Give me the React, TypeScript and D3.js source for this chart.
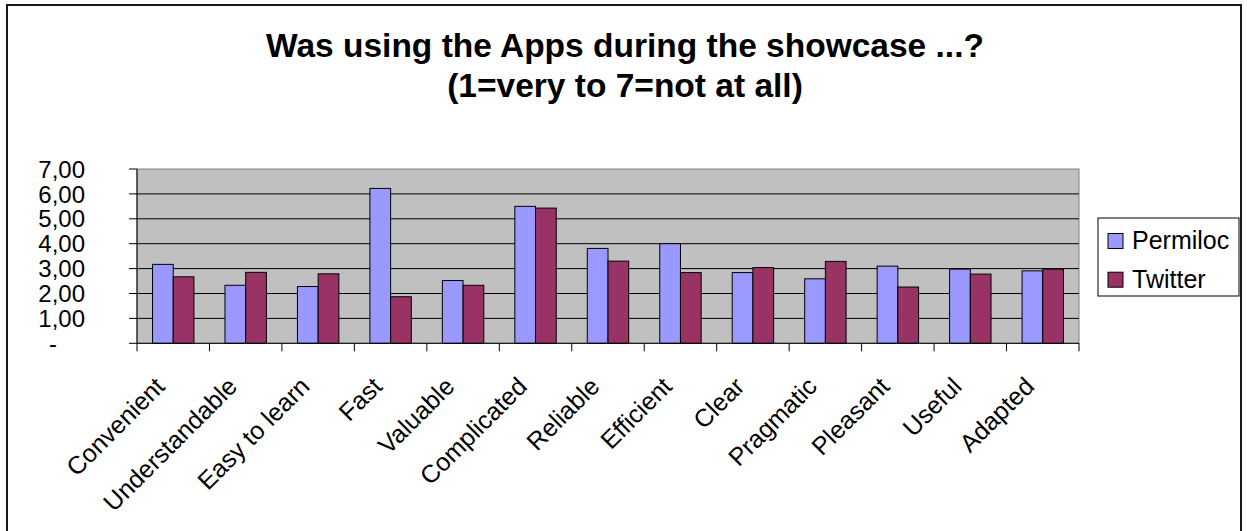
import React from "react";
import * as d3 from "d3";

// Survey attributes rated on a 1 (very) to 7 (not at all) scale
const categories = [
  "Convenient",
  "Understandable",
  "Easy to learn",
  "Fast",
  "Valuable",
  "Complicated",
  "Reliable",
  "Efficient",
  "Clear",
  "Pragmatic",
  "Pleasant",
  "Useful",
  "Adapted",
];

const seriesNames = ["Permiloc", "Twitter"];

// Mean ratings per app
const permiloc = [3.17, 2.33, 2.28, 6.22, 2.52, 5.5, 3.81, 4.0, 2.84, 2.59, 3.1, 2.98, 2.91];
const twitter = [2.67, 2.85, 2.79, 1.87, 2.33, 5.43, 3.3, 2.84, 3.04, 3.29, 2.26, 2.78, 2.98];

const yTicks = [0, 1, 2, 3, 4, 5, 6, 7];

const titleLines = ["Was using the Apps during the showcase ...?", "(1=very to 7=not at all)"];

const colors = ["#9999FF", "#993366"];

const W = 1247;
const H = 531;
const plot = { left: 137, right: 1079, top: 169, bottom: 343.3 };
const FONT = "'Liberation Sans', Arial, sans-serif";

export default function App() {
  const values = [permiloc, twitter];

  const x = d3.scaleBand<string>().domain(categories).range([plot.left, plot.right]).padding(0);
  const sub = d3
    .scaleBand<string>()
    .domain(seriesNames)
    .range([0, x.bandwidth()])
    .paddingInner(0)
    .paddingOuter(0.75);
  const y = d3.scaleLinear().domain([0, 7]).range([plot.bottom, plot.top]);

  const fmt = (v: number) => (v === 0 ? "-" : d3.format(".2f")(v).replace(".", ","));

  const boundaries = d3.range(categories.length + 1).map((i) => plot.left + i * x.step());

  return (
    <svg
      width={W}
      height={H}
      style={{ position: "fixed", left: 0, top: 0, background: "#fff" }}
      fontFamily={FONT}
    >
      {/* chart frame */}
      <rect x={7} y={5} width={1234} height={600} fill="#fff" stroke="#000" strokeWidth={1.8} />

      {/* title */}
      {titleLines.map((t, i) => (
        <text
          key={t}
          x={625}
          y={57 + i * 40}
          textAnchor="middle"
          fontSize={33.5}
          fontWeight="bold"
          fill="#000"
        >
          {t}
        </text>
      ))}

      {/* plot area */}
      <rect
        x={plot.left}
        y={plot.top}
        width={plot.right - plot.left}
        height={plot.bottom - plot.top}
        fill="#C0C0C0"
        stroke="#808080"
        strokeWidth={1}
      />

      {/* gridlines */}
      {yTicks
        .filter((t) => t > 0 && t < 7)
        .map((t) => (
          <line key={t} x1={plot.left} x2={plot.right} y1={y(t)} y2={y(t)} stroke="#000" strokeWidth={1} />
        ))}

      {/* bars */}
      {categories.map((c, i) => (
        <g key={c}>
          {seriesNames.map((s, j) => {
            const v = values[j][i];
            return (
              <rect
                key={s}
                x={(x(c) as number) + (sub(s) as number)}
                y={y(v)}
                width={sub.bandwidth()}
                height={y(0) - y(v)}
                fill={colors[j]}
                stroke="#000"
                strokeWidth={1}
              />
            );
          })}
        </g>
      ))}

      {/* y axis */}
      <line x1={plot.left} x2={plot.left} y1={plot.top} y2={plot.bottom} stroke="#000" strokeWidth={1} />
      {yTicks.map((t) => (
        <g key={t}>
          <line x1={plot.left - 8} x2={plot.left} y1={y(t)} y2={y(t)} stroke="#000" strokeWidth={1} />
          <text
            x={t === 0 ? 57 : 85}
            y={y(t)}
            dy="0.36em"
            textAnchor="end"
            fontSize={24}
            fill="#000"
          >
            {fmt(t)}
          </text>
        </g>
      ))}

      {/* x axis */}
      <line x1={plot.left} x2={plot.right} y1={plot.bottom} y2={plot.bottom} stroke="#000" strokeWidth={1} />
      {boundaries.map((bx, i) => (
        <line key={i} x1={bx} x2={bx} y1={plot.bottom} y2={plot.bottom + 8} stroke="#000" strokeWidth={1} />
      ))}
      {categories.map((c) => {
        const cx = (x(c) as number) + x.bandwidth() / 2 - 7;
        const cy = 388;
        return (
          <text
            key={c}
            x={cx}
            y={cy}
            transform={`rotate(-45 ${cx} ${cy})`}
            textAnchor="end"
            fontSize={25}
            fill="#000"
          >
            {c}
          </text>
        );
      })}

      {/* legend */}
      <rect x={1098} y={218} width={141} height={78} fill="#fff" stroke="#000" strokeWidth={1} />
      {seriesNames.map((s, j) => (
        <g key={s} transform={`translate(0, ${j * 38.7})`}>
          <rect x={1108} y={233.5} width={15} height={15} fill={colors[j]} stroke="#000" strokeWidth={1} />
          <text x={1132} y={249} fontSize={25} fill="#000">
            {s}
          </text>
        </g>
      ))}
    </svg>
  );
}
